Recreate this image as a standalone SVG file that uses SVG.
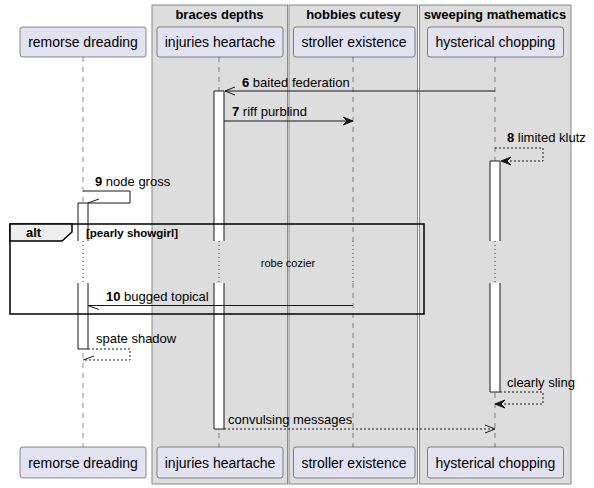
<svg xmlns="http://www.w3.org/2000/svg" width="594" height="488" viewBox="0 0 594 488">
<defs>
<style>
text{font-family:"Liberation Sans",Arial,sans-serif;fill:#000}
.box{fill:#DDDDDD;stroke:#888888;stroke-width:1}
.btitle{font-size:13px;font-weight:bold;text-anchor:middle}
.part{fill:#E2E2F0;stroke:#181818;stroke-width:0.5}
.ptxt{font-size:14px;text-anchor:middle}
.life{stroke:#181818;stroke-width:0.5;stroke-dasharray:5,5;fill:none}
.delay{stroke:#8B0A2A;stroke-width:1;stroke-dasharray:1,3;fill:none}
.act{fill:#FFFFFF;stroke:none}
.actl{stroke:#181818;stroke-width:1;fill:none}
.msg{stroke:#181818;stroke-width:1;fill:none}
.dash{stroke-dasharray:2,2}
.head{fill:#181818;stroke:#181818;stroke-width:1}
.mtxt{font-size:13px}
.num{font-weight:bold}
.frame{fill:none;stroke:#000;stroke-width:1.5}
.tab{fill:#EEEEEE;stroke:#000;stroke-width:1.5}
</style>
</defs>
<g id="box-braces-depths">
<rect class="box" x="152" y="5" width="135.5" height="479"/>
<text class="btitle" x="219.5" y="19">braces depths</text>
</g>
<g id="box-hobbies-cutesy">
<rect class="box" x="289" y="5" width="128.5" height="479"/>
<text class="btitle" x="353.5" y="19">hobbies cutesy</text>
</g>
<g id="box-sweeping-mathematics">
<rect class="box" x="419.5" y="5" width="151.5" height="479"/>
<text class="btitle" x="495" y="19">sweeping mathematics</text>
</g>
<g id="lifelines">
<path class="life" d="M83,57V241M83,283V447M219,57V241M219,283V447M353,57V241M353,283V447M495,57V241M495,283V447"/>
<path class="delay" d="M83,241V283M219,241V283M353,241V283M495,241V283"/>
</g>
<g id="remorse-dreading">
<rect class="part" x="20" y="27" width="126" height="30" rx="2.5"/>
<text class="ptxt" x="83" y="47">remorse dreading</text>
<rect class="part" x="20" y="447" width="126" height="31" rx="2.5"/>
<text class="ptxt" x="83" y="467.5">remorse dreading</text>
</g>
<g id="injuries-heartache">
<rect class="part" x="157" y="27" width="126" height="30" rx="2.5"/>
<text class="ptxt" x="220" y="47">injuries heartache</text>
<rect class="part" x="157" y="447" width="126" height="31" rx="2.5"/>
<text class="ptxt" x="220" y="467.5">injuries heartache</text>
</g>
<g id="stroller-existence">
<rect class="part" x="293.5" y="27" width="121.5" height="30" rx="2.5"/>
<text class="ptxt" x="354" y="47">stroller existence</text>
<rect class="part" x="293.5" y="447" width="121.5" height="31" rx="2.5"/>
<text class="ptxt" x="354" y="467.5">stroller existence</text>
</g>
<g id="hysterical-chopping">
<rect class="part" x="427.5" y="27" width="136" height="30" rx="2.5"/>
<text class="ptxt" x="495.5" y="47">hysterical chopping</text>
<rect class="part" x="427.5" y="447" width="136" height="31" rx="2.5"/>
<text class="ptxt" x="495.5" y="467.5">hysterical chopping</text>
</g>
<g id="activations">
<rect class="act" x="78" y="203" width="10" height="38"/>
<rect class="act" x="78" y="283" width="10" height="66"/>
<path class="actl" d="M78,241V203H88V241M78,283V349H88V283"/>
<rect class="act" x="214" y="91" width="10" height="150"/>
<rect class="act" x="214" y="283" width="10" height="146"/>
<path class="actl" d="M214,241V91H224V241M214,283V429H224V283"/>
<rect class="act" x="490" y="161" width="10" height="80"/>
<rect class="act" x="490" y="283" width="10" height="109"/>
<path class="actl" d="M490,241V161H500V241M490,283V392H500V283"/>
</g>
<g id="alt-frame">
<rect class="frame" x="10" y="224" width="414" height="90"/>
<path class="tab" d="M10,224H72V232L62,241H10Z"/>
<text x="26" y="237" style="font-size:13px;font-weight:bold">alt</text>
<text x="86" y="236.5" style="font-size:11.5px;font-weight:bold">[pearly showgirl]</text>
<text x="288" y="267" style="font-size:11px;text-anchor:middle">robe cozier</text>
</g>
<g id="connectors">
<path class="msg" d="M495,91H225"/>
<path class="msg" d="M235,87L225,91L235,95"/>
<text class="mtxt" x="242" y="86.5"><tspan class="num">6</tspan> baited federation</text>
<path class="msg" d="M224,121H352"/>
<polygon class="head" points="353,121 343,117 347,121 343,125"/>
<text class="mtxt" x="232" y="116"><tspan class="num">7</tspan> riff purblind</text>
<path class="msg dash" d="M495,148H543V161H502"/>
<polygon class="head" points="501,161 511,157 507,161 511,165"/>
<text class="mtxt" x="507" y="141.5"><tspan class="num">8</tspan> limited klutz</text>
<path class="msg" d="M83,191H130V203H88"/>
<path class="msg" d="M88,203L99,199"/>
<text class="mtxt" x="95" y="186"><tspan class="num">9</tspan> node gross</text>
<path class="msg" d="M353,305.5H88"/>
<path class="msg" d="M88,305.5L99,309.5"/>
<text class="mtxt" x="106" y="300.5"><tspan class="num">10</tspan> bugged topical</text>
<path class="msg dash" d="M88,349H130V360H83"/>
<path class="msg" d="M83,360L94,356"/>
<text class="mtxt" x="96" y="343">spate shadow</text>
<path class="msg dash" d="M500,392H543V404H496"/>
<polygon class="head" points="495,404 505,400 501,404 505,408"/>
<text class="mtxt" x="507" y="387">clearly sling</text>
<path class="msg dash" d="M224,429H494"/>
<path class="msg" d="M485,425L495,429L485,433"/>
<text class="mtxt" x="228" y="424">convulsing messages</text>
</g>
</svg>
